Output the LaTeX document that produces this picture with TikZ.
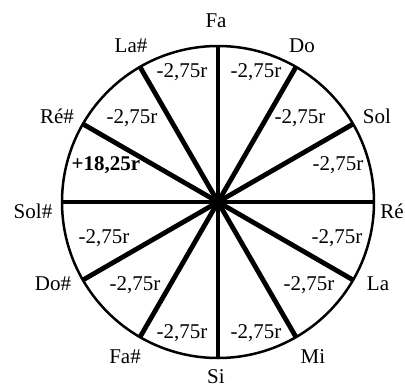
\documentclass[tikz,border=0pt]{standalone}
\usepackage{fontspec}
\setmainfont{Liberation Serif}
\usetikzlibrary{calc}
\begin{document}
\begin{tikzpicture}[x=1bp,y=-1bp,
  lbl/.style={anchor=base,inner sep=0pt,font=\fontsize{21bp}{25bp}\selectfont},
  val/.style={lbl},
  spoke/.style={line width=4.8bp},
  rim/.style={line width=2.5bp}]
\useasboundingbox (0,0) rectangle (405,387);
\coordinate (c) at (218,202);
\draw[rim] (c) circle[radius=156];
\foreach \a/\n in {90/pfa,60/pdo,30/psol,0/pre,-30/pla,-60/pmi,-90/psi,-120/pfas,-150/pdos,180/psols,150/pres,120/plas}
  \coordinate (\n) at ($(c)+(-\a:156)$);
\draw[spoke] (pfa) -- (psi);
\draw[spoke] (pdo) -- (pfas);
\draw[spoke] (psol) -- (pdos);
\draw[spoke,line width=4.2bp] (pre) -- (psols);
\draw[spoke] (pla) -- (pres);
\draw[spoke] (pmi) -- (plas);
% note names
\node[lbl] (fa) at (216,27) {Fa};
\node[lbl] (las) at (131,52) {La\#};
\node[lbl] (do) at (302,52) {Do};
\node[lbl] (res) at (57,123) {Ré\#};
\node[lbl] (sol) at (377,123) {Sol};
\node[lbl] (sols) at (33,218) {Sol\#};
\node[lbl] (re) at (392,218) {Ré};
\node[lbl] (dos) at (53,290) {Do\#};
\node[lbl] (la) at (378,290) {La};
\node[lbl] (fas) at (125,363) {Fa\#};
\node[lbl] (mi) at (313,363) {Mi};
\node[lbl] (si) at (216,383) {Si};
% values
\node[val] (v1) at (182,77) {-2,75r};
\node[val] (v2) at (256,77) {-2,75r};
\node[val] (v3) at (132,123) {-2,75r};
\node[val] (v4) at (300,123) {-2,75r};
\node[val,font=\fontsize{21bp}{25bp}\selectfont\bfseries] (v5) at (106,170) {+18,25r};
\node[val] (v6) at (338,170) {-2,75r};
\node[val] (v7) at (104,243) {-2,75r};
\node[val] (v8) at (337,243) {-2,75r};
\node[val] (v9) at (135,290) {-2,75r};
\node[val] (v10) at (309,290) {-2,75r};
\node[val] (v11) at (182,338) {-2,75r};
\node[val] (v12) at (256,338) {-2,75r};
\end{tikzpicture}
\end{document}
